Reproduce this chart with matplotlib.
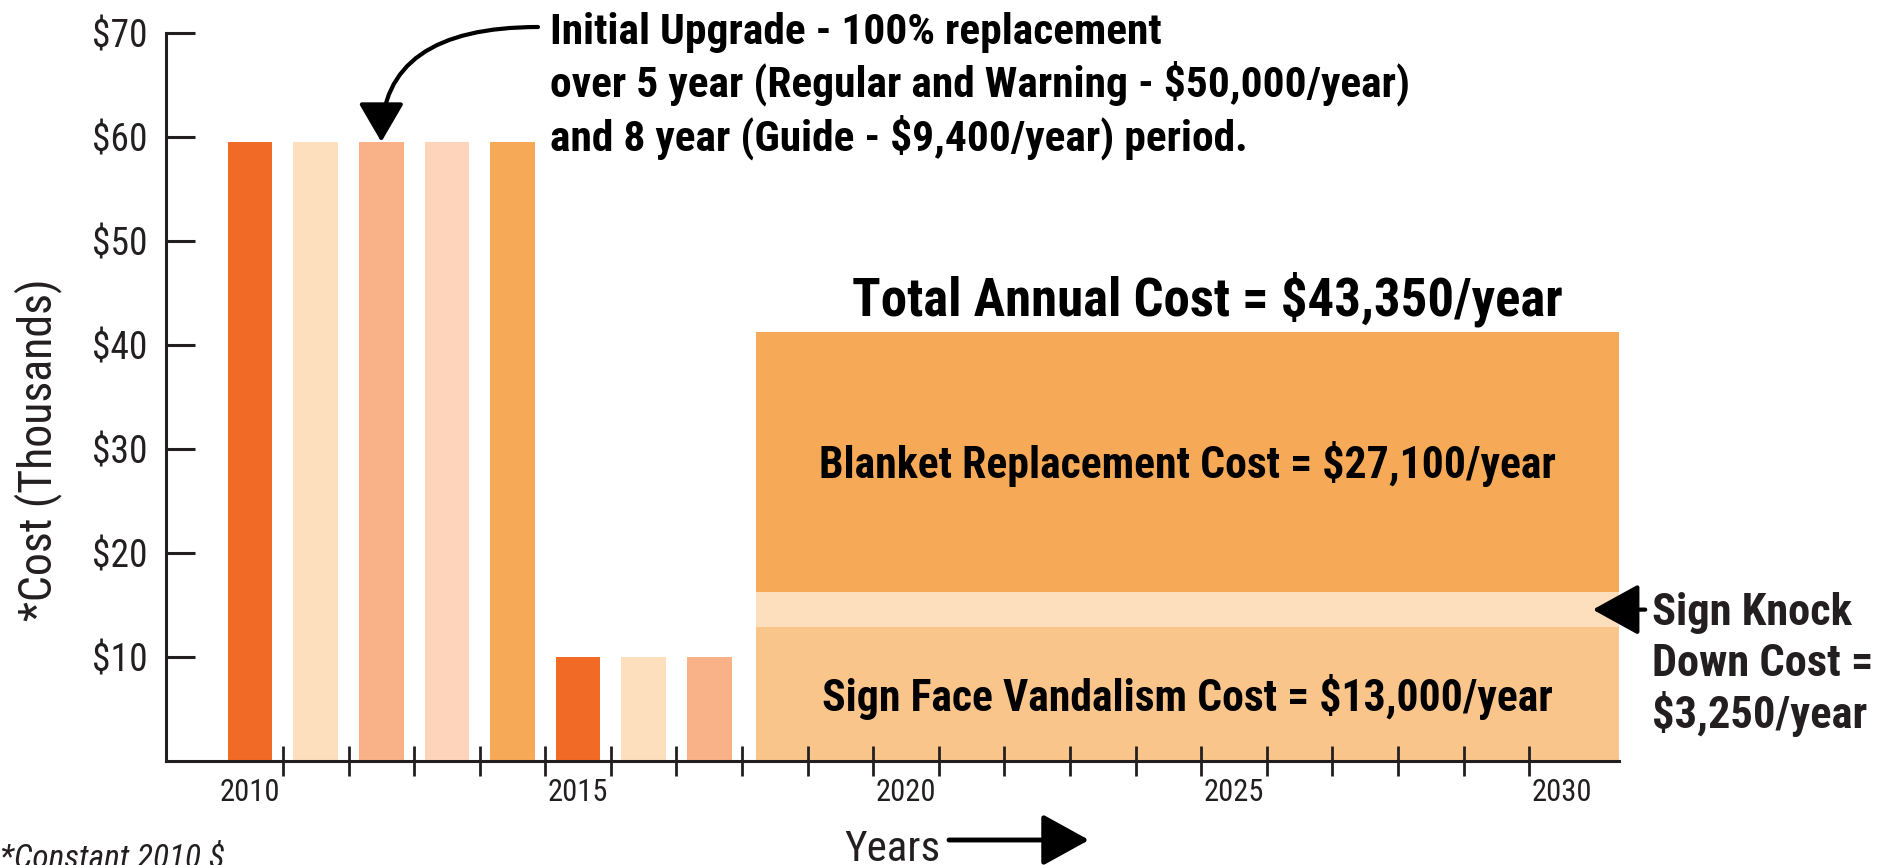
import matplotlib
matplotlib.use("Agg")
import matplotlib.pyplot as plt
from matplotlib import font_manager

# narrow sans to stand in for Helvetica Condensed
avail = {f.name for f in font_manager.fontManager.ttflist}
cond = next((n for n in ["Roboto Condensed", "Barlow Condensed", "Archivo Narrow",
                         "Liberation Sans Narrow"] if n in avail), "DejaVu Sans")
plt.rcParams["font.family"] = [cond, "DejaVu Sans"]

INK = "#231F20"

# initial upgrade years (thousands of 2010 $)
years = [2010, 2011, 2012, 2013, 2014, 2015, 2016, 2017]
upgrade_cost = [59.5, 59.5, 59.5, 59.5, 59.5, 9.95, 9.95, 9.95]
bar_colors = ["#F26B26", "#FDDFBD", "#F9B287", "#FED5BA", "#F6AA57",
              "#F26B26", "#FDDFBD", "#F9B287"]

# steady state block, stacked bottom to top
steady_start = 2017.71
steady_end = 2030.87
steady_values = [12.9, 3.3, 25.0]
steady_colors = ["#F9C58B", "#FDDFBD", "#F6AA57"]

year_labels = [2010, 2015, 2020, 2025, 2030]
cost_ticks = [10, 20, 30, 40, 50, 60, 70]

fig = plt.figure(figsize=(18.94, 8.65), dpi=100)
ax = fig.add_axes([0.0874, 0.1202, 0.7674, 0.8421])

ax.bar(years, upgrade_cost, width=0.68, color=bar_colors)

bottom = 0
for v, c in zip(steady_values, steady_colors):
    ax.bar(steady_start, v, width=steady_end - steady_start, bottom=bottom,
           align="edge", color=c)
    bottom += v

ax.set_xlim(2008.71, 2030.87)
ax.set_ylim(0, 70)

for s in ["top", "right"]:
    ax.spines[s].set_visible(False)
for s in ["left", "bottom"]:
    ax.spines[s].set_linewidth(2.2)
    ax.spines[s].set_color(INK)

ax.set_yticks(cost_ticks)
ax.set_yticklabels(["$%d" % t for t in cost_ticks])
ax.tick_params(axis="y", direction="in", length=21, width=2.2, pad=13,
               labelsize=27, colors=INK)

ax.set_xticks(year_labels)
ax.set_xticklabels([str(y) for y in year_labels])
ax.set_xticks([y + 0.5 for y in range(2010, 2030)], minor=True)
ax.tick_params(axis="x", which="major", length=0, pad=12, labelsize=22, colors=INK)
ax.tick_params(axis="x", which="minor", direction="inout", length=21, width=2,
               colors=INK)

mid = (steady_start + steady_end) / 2
ax.text(mid + 0.3, 42.8, "Total Annual Cost = $43,350/year", ha="center",
        va="baseline", fontsize=38, fontweight="bold")
ax.text(mid, 27.2, "Blanket Replacement Cost = $27,100/year", ha="center",
        va="baseline", fontsize=31.5, fontweight="bold")
ax.text(mid, 4.8, "Sign Face Vandalism Cost = $13,000/year", ha="center",
        va="baseline", fontsize=31.5, fontweight="bold")

H = 865.0
top_note = ["Initial Upgrade - 100% replacement",
            "over 5 year (Regular and Warning - $50,000/year)",
            "and 8 year (Guide - $9,400/year) period."]
for i, line in enumerate(top_note):
    fig.text(550 / 1894, (H - 44 - 53 * i) / H, line, ha="left", va="baseline",
             fontsize=31.3, fontweight="bold")

ax.annotate("", xy=(years[2], upgrade_cost[2]), xytext=(538, H - 27),
            textcoords="figure pixels", annotation_clip=False,
            arrowprops=dict(arrowstyle="-|>,head_length=1.2,head_width=0.7",
                            connectionstyle="angle3,angleA=0,angleB=90",
                            lw=3, color="black", mutation_scale=20,
                            shrinkA=0, shrinkB=0))

knock_mid = steady_values[0] + steady_values[1] / 2
ax.annotate("", xy=(steady_end - 0.4, knock_mid), xytext=(steady_end + 0.4, knock_mid),
            annotation_clip=False,
            arrowprops=dict(arrowstyle="-|>,head_length=1.45,head_width=0.8",
                            lw=3, color="black", mutation_scale=20,
                            shrinkA=0, shrinkB=0))
knock_note = ["Sign Knock", "Down Cost =", "$3,250/year"]
for i, line in enumerate(knock_note):
    fig.text(1652 / 1894, (H - 625 - 51.5 * i) / H, line, ha="left", va="baseline",
             fontsize=32, fontweight="bold", color=INK)

fig.text(38 / 1894, (H - 450) / H, "*Cost (Thousands)", rotation=90, ha="center",
         va="center", fontsize=33, color=INK)
fig.text(844 / 1894, 4 / H, "Years", ha="left", va="baseline", fontsize=31, color=INK)
fig.patches.append(matplotlib.patches.FancyArrowPatch(
    (949, 25), (1089, 25), transform=None,
    arrowstyle="-|>,head_length=1.45,head_width=0.8", mutation_scale=20,
    lw=3.5, color="black", shrinkA=0, shrinkB=0))
fig.text(0, -3 / H, "*Constant 2010 $", ha="left", va="baseline", fontsize=24,
         style="italic", color=INK)

fig.savefig("out.png")
